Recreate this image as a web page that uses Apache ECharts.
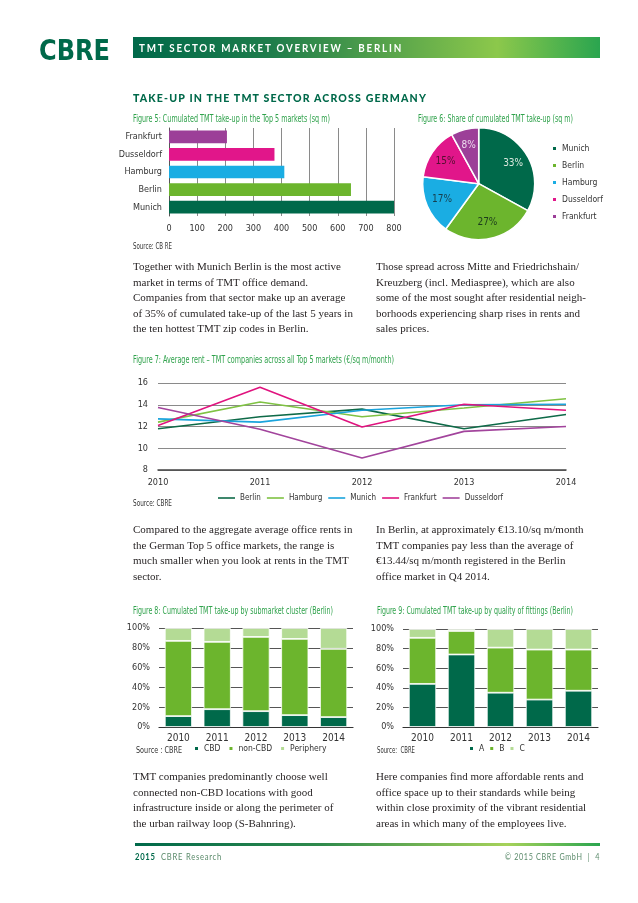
<!DOCTYPE html>
<html><head><meta charset="utf-8">
<script src="https://cdn.jsdelivr.net/npm/echarts@6/dist/echarts.min.js"></script>
<style>
html,body{margin:0;padding:0;background:#fff;}
#page{position:relative;width:638px;height:903px;overflow:hidden;background:#fff;}
.layer{position:absolute;left:0;top:0;width:638px;height:903px;}
.t{position:absolute;white-space:nowrap;transform-origin:0 50%;line-height:1;}
.logo{left:39px;top:34px;font:bold 28px 'DejaVu Sans',sans-serif;color:#00694a;}
.band{position:absolute;left:133px;top:37px;width:467px;height:21px;background:linear-gradient(90deg,#00694a 0%,#1f7d4b 30%,#8cc84b 78%,#2aa54f 100%);}
.bandtxt{left:139px;top:42px;font:bold 10.5px Lato,sans-serif;color:#fff;letter-spacing:1.9px;}
.h2{left:133px;top:91px;font:900 11px Lato,sans-serif;color:#00694a;letter-spacing:1.2px;}
.ft{font:10.5px 'Liberation Sans Narrow','DejaVu Sans Condensed',sans-serif;color:#30a24c;}
.src{font:9.5px 'Liberation Sans Narrow','DejaVu Sans Condensed',sans-serif;color:#333;}
.p{position:absolute;font:11px 'Liberation Serif','DejaVu Serif',serif;color:#231f20;line-height:15.5px;white-space:nowrap;}
.fline{position:absolute;left:135px;top:843px;width:465px;height:2.5px;background:linear-gradient(90deg,#00694a 0%,#2f8a4c 40%,#a6d25a 80%,#2aa54f 100%);}
.foot{font:8.5px Lato,sans-serif;color:#5a8a6a;letter-spacing:0.8px;}
.foot b{color:#00694a;}
</style></head>
<body><div id="page">
<div id="c5" class="layer"></div>
<div id="c6" class="layer"></div>
<div id="c7" class="layer"></div>
<div id="c8" class="layer"></div>
<div id="c9" class="layer"></div>

<div class="t logo" data-w="71">CBRE</div>
<div class="band"></div>
<div class="t bandtxt" data-w="264">TMT SECTOR MARKET OVERVIEW – BERLIN</div>
<div class="t h2" data-w="294" style="top:91px">TAKE-UP IN THE TMT SECTOR ACROSS GERMANY</div>

<div class="t ft" data-w="197" style="left:133px;top:112px">Figure 5: Cumulated TMT take-up in the Top 5 markets (sq m)</div>
<div class="t src" data-w="39" style="left:133px;top:240px">Source: CB RE</div>
<div class="t ft" data-w="155" style="left:418px;top:112px">Figure 6: Share of cumulated TMT take-up (sq m)</div>

<div class="p" style="left:133px;top:259px">Together with Munich Berlin is the most active<br>market in terms of TMT office demand.<br>Companies from that sector make up an average<br>of 35% of cumulated take-up of the last 5 years in<br>the ten hottest TMT zip codes in Berlin.</div>
<div class="p" style="left:376px;top:259px">Those spread across Mitte and Friedrichshain/<br>Kreuzberg (incl. Mediaspree), which are also<br>some of the most sought after residential neigh-<br>borhoods experiencing sharp rises in rents and<br>sales prices.</div>

<div class="t ft" data-w="261" style="left:133px;top:353px">Figure 7: Average rent – TMT companies across all Top 5 markets (€/sq m/month)</div>
<div class="t src" data-w="39" style="left:133px;top:497px">Source: CBRE</div>

<div class="p" style="left:133px;top:522px">Compared to the aggregate average office rents in<br>the German Top 5 office markets, the range is<br>much smaller when you look at rents in the TMT<br>sector.</div>
<div class="p" style="left:376px;top:522px">In Berlin, at approximately €13.10/sq m/month<br>TMT companies pay less than the average of<br>€13.44/sq m/month registered in the Berlin<br>office market in Q4 2014.</div>

<div class="t ft" data-w="200" style="left:133px;top:604px">Figure 8: Cumulated TMT take-up by submarket cluster (Berlin)</div>
<div class="t src" data-w="46" style="left:136px;top:744px">Source : CBRE</div>
<div class="t ft" data-w="196" style="left:377px;top:604px">Figure 9: Cumulated TMT take-up by quality of fittings (Berlin)</div>
<div class="t src" data-w="38" style="left:377px;top:744px">Source:&nbsp; CBRE</div>

<div class="p" style="left:133px;top:769px">TMT companies predominantly choose well<br>connected non-CBD locations with good<br>infrastructure inside or along the perimeter of<br>the urban railway loop (S-Bahnring).</div>
<div class="p" style="left:376px;top:769px">Here companies find more affordable rents and<br>office space up to their standards while being<br>within close proximity of the vibrant residential<br>areas in which many of the employees live.</div>

<div class="fline"></div>
<div class="t foot" data-w="87" style="left:135px;top:852px"><b>2015</b>&nbsp; CBRE Research</div>
<div class="t foot" data-w="95" style="left:505px;top:852px">© 2015 CBRE GmbH &nbsp;|&nbsp; 4</div>
</div>
<script>
// ---------- data ----------
const fig5Cities = ['Munich', 'Berlin', 'Hamburg', 'Dusseldorf', 'Frankfurt'];
const fig5TakeUp = [800, 647, 410, 375, 206];
const fig5XTicks = [0, 100, 200, 300, 400, 500, 600, 700, 800];

const fig6Markets = ['Munich', 'Berlin', 'Hamburg', 'Dusseldorf', 'Frankfurt'];
const fig6Share = [33, 27, 17, 15, 8];

const fig7Years = ['2010', '2011', '2012', '2013', '2014'];
const fig7Berlin = [11.8, 12.9, 13.6, 11.8, 13.1];
const fig7Hamburg = [12.4, 14.25, 12.9, 13.7, 14.55];
const fig7Munich = [12.7, 12.4, 13.5, 14.0, 14.05];
const fig7Frankfurt = [12.1, 15.6, 11.95, 14.05, 13.5];
const fig7Dusseldorf = [13.75, 11.75, 9.1, 11.55, 12.0];

const fig8Years = ['2010', '2011', '2012', '2013', '2014'];
const fig8CBD = [11, 18, 16, 12, 10];
const fig8NonCBD = [76, 68, 75, 77, 69];
const fig8Periphery = [13, 14, 9, 11, 21];

const fig9Years = ['2010', '2011', '2012', '2013', '2014'];
const fig9A = [44, 74, 35, 28, 37];
const fig9B = [47, 24, 46, 51, 42];
const fig9C = [9, 2, 19, 21, 21];

// ---------- font pick: narrowest available ----------
function hasFont(f) {
  const c = document.createElement('canvas').getContext('2d');
  const s = 'Dusseldorf Hamburg 2010 100%';
  c.font = '40px monospace'; const a = c.measureText(s).width;
  c.font = "40px '" + f + "', monospace"; return c.measureText(s).width !== a;
}
const narrowCandidates = ['Liberation Sans Narrow', 'DejaVu Sans Condensed', 'Roboto Condensed', 'Open Sans Condensed', 'Liberation Sans'];
const CF = "'" + (narrowCandidates.find(hasFont) || 'sans-serif') + "', sans-serif";

// ---------- styles ----------
const DARK = '#00694a', GREEN = '#6cb52d', LIGHT = '#b4db95';
const cityColors = { Munich: DARK, Berlin: GREEN, Hamburg: '#1aade3', Dusseldorf: '#e1168a', Frankfurt: '#9c3f98' };
const lineColors = { Berlin: '#0e6a48', Hamburg: '#7fc243', Munich: '#1ba4dc', Frankfurt: '#e0147f', Dusseldorf: '#a2449c' };
const pieLabelColors = ['#d9e8de', '#1d3d1d', '#173f4d', '#54102f', '#eedcee'];
const lbl = { fontFamily: CF, fontSize: 9, color: '#333' };
const lgd = { fontFamily: CF, fontSize: 8.5, color: '#333' };

// fit text widths
document.querySelectorAll('[data-w]').forEach(el => {
  const w = el.getBoundingClientRect().width;
  el.style.transform = 'scaleX(' + (+el.dataset.w / w) + ')';
});

// ---------- Figure 5 ----------
echarts.init(document.getElementById('c5')).setOption({
  animation: false,
  grid: { left: 169, top: 128, width: 225, height: 88 },
  xAxis: { type: 'value', min: fig5XTicks[0], max: fig5XTicks[fig5XTicks.length - 1], interval: fig5XTicks[1] - fig5XTicks[0],
    axisLine: { show: false }, axisTick: { show: false }, axisLabel: Object.assign({ margin: 8 }, lbl),
    splitLine: { lineStyle: { color: '#8a8a8a', width: 1 } } },
  yAxis: { type: 'category', data: fig5Cities, axisTick: { show: false },
    axisLine: { lineStyle: { color: '#555', width: 1 } }, axisLabel: Object.assign({ margin: 7 }, lbl) },
  series: [{ type: 'bar', barWidth: 12.7,
    data: fig5TakeUp.map((v, i) => ({ value: v, itemStyle: { color: cityColors[fig5Cities[i]] } })) }]
});

// ---------- Figure 6 ----------
echarts.init(document.getElementById('c6')).setOption({
  animation: false,
  legend: { orient: 'vertical', left: 551, top: 144, padding: 0, icon: 'rect', itemWidth: 5, itemHeight: 5, itemGap: 8,
    data: fig6Markets, textStyle: lgd, selectedMode: false },
  series: [
    { type: 'pie', center: [478.7, 183.7], radius: 56, startAngle: 90, clockwise: true, silent: true,
      label: { show: false }, labelLine: { show: false },
      itemStyle: { borderColor: '#fff', borderWidth: 1.5 },
      data: fig6Markets.map((m, i) => ({ name: m, value: fig6Share[i], itemStyle: { color: cityColors[m] } })) },
    { type: 'pie', center: [478.7, 183.7], radius: [18, 56], startAngle: 90, clockwise: true, silent: true,
      legendHoverLink: false,
      itemStyle: { color: 'rgba(0,0,0,0)' }, labelLine: { show: false },
      label: { show: true, position: 'inside', formatter: '{c}%', fontFamily: CF, fontSize: 10 },
      data: fig6Markets.map((m, i) => ({ name: m + ' ', value: fig6Share[i], label: { color: pieLabelColors[i] } })) }
  ]
});

// ---------- Figure 7 ----------
const fig7Series = { Berlin: fig7Berlin, Hamburg: fig7Hamburg, Munich: fig7Munich, Frankfurt: fig7Frankfurt, Dusseldorf: fig7Dusseldorf };
echarts.init(document.getElementById('c7')).setOption({
  animation: false,
  grid: { left: 158, top: 383, width: 408, height: 87 },
  legend: { left: 218, top: 494, padding: 0, icon: 'rect', itemWidth: 17, itemHeight: 1.6, itemGap: 6,
    textStyle: Object.assign({}, lgd, { fontSize: 8 }), selectedMode: false },
  xAxis: { type: 'category', data: fig7Years, boundaryGap: false, axisTick: { show: false },
    axisLine: { lineStyle: { color: '#444', width: 1.5 } }, axisLabel: Object.assign({ margin: 8 }, lbl) },
  yAxis: { type: 'value', min: 8, max: 16, interval: 2, axisLine: { show: false }, axisTick: { show: false },
    axisLabel: Object.assign({ margin: 10 }, lbl), splitLine: { lineStyle: { color: '#8a8a8a', width: 1 } } },
  series: Object.keys(fig7Series).map(k => ({ name: k, type: 'line', data: fig7Series[k], symbol: 'none',
    lineStyle: { color: lineColors[k], width: 1.6 }, itemStyle: { color: lineColors[k] } }))
});

// ---------- Figures 8 & 9 ----------
function stacked(id, grid, years, names, vals, legendLeft, gap) {
  const cols = [DARK, GREEN, LIGHT];
  echarts.init(document.getElementById(id)).setOption({
    animation: false,
    grid: grid,
    legend: { left: legendLeft, top: 744, padding: 0, icon: 'rect', itemWidth: 5, itemHeight: 5, itemGap: gap, textStyle: lgd, selectedMode: false },
    xAxis: { type: 'category', data: years, axisTick: { show: false },
      axisLine: { lineStyle: { color: '#333', width: 1.2 } }, axisLabel: Object.assign({}, lbl, { fontSize: 10, margin: 6 }) },
    yAxis: { type: 'value', min: 0, max: 100, interval: 20, axisLine: { show: false }, axisTick: { show: false },
      axisLabel: Object.assign({ margin: 9, formatter: '{value}%' }, lbl), splitLine: { lineStyle: { color: '#555', width: 1 } } },
    series: names.map((n, i) => ({ name: n, type: 'bar', stack: 's', data: vals[i], barCategoryGap: '30%',
      itemStyle: { color: cols[i], borderColor: '#fff', borderWidth: 0.8 } }))
  });
}
stacked('c8', { left: 159, top: 628, width: 194, height: 99 }, fig8Years, ['CBD', 'non-CBD', 'Periphery'], [fig8CBD, fig8NonCBD, fig8Periphery], 193, 7);
stacked('c9', { left: 403, top: 629, width: 195, height: 98 }, fig9Years, ['A', 'B', 'C'], [fig9A, fig9B, fig9C], 468, 4);
</script>
</body></html>
